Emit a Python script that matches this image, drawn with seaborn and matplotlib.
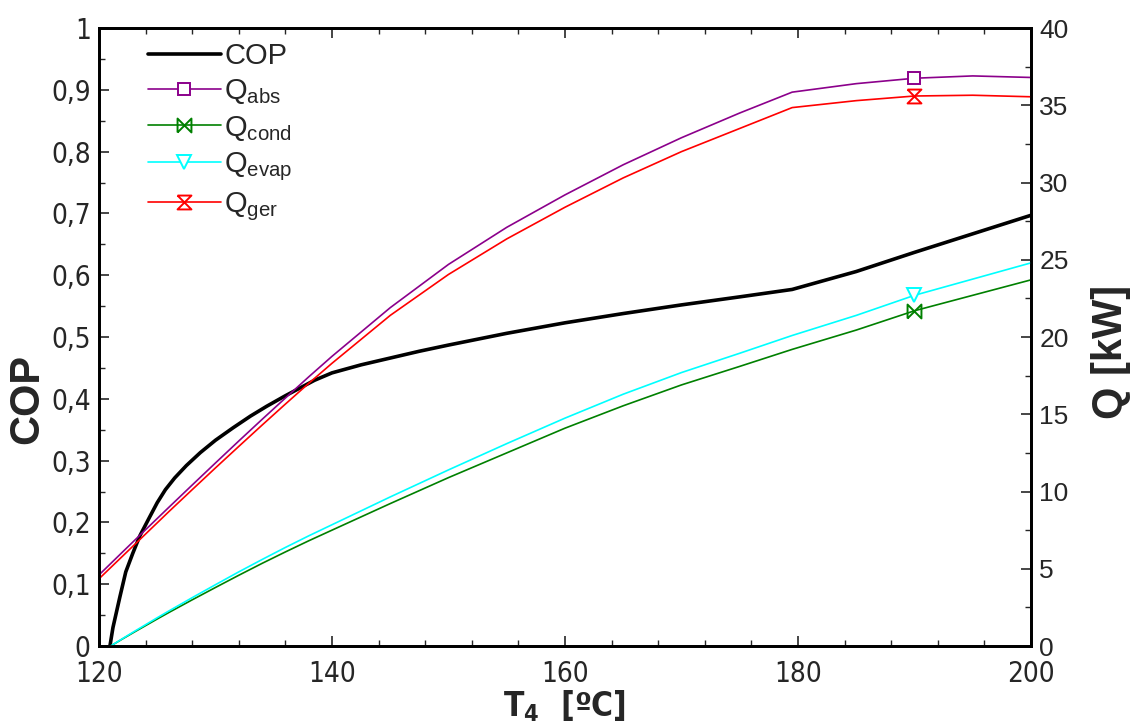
import matplotlib
matplotlib.use("Agg")
import matplotlib.pyplot as plt
import seaborn as sns
from matplotlib.ticker import MultipleLocator, FuncFormatter
from matplotlib import font_manager
from matplotlib.font_manager import FontProperties

# values
t_cop = [120.94, 121.2, 121.5, 121.8, 122.3, 122.9, 123.5, 124.3, 125.0, 125.7, 126.5,
         127.5, 128.7, 130.0, 131.5, 133.0, 134.4, 136.0, 137.3, 138.5, 140, 142.5, 145,
         147.5, 150, 155, 160, 165, 170, 175, 179.5, 185, 190, 195, 200]
cop = [0.0, 0.03, 0.055, 0.08, 0.12, 0.15, 0.178, 0.207, 0.232, 0.253, 0.272,
       0.292, 0.313, 0.333, 0.353, 0.372, 0.388, 0.405, 0.418, 0.43, 0.442, 0.455, 0.466,
       0.477, 0.487, 0.506, 0.523, 0.538, 0.552, 0.565, 0.577, 0.606, 0.637, 0.667, 0.697]

t_q = [120, 122, 124, 126, 128, 130, 132, 134, 136, 138, 140,
       145, 150, 155, 160, 165, 170, 175, 179.5, 185, 190, 195, 200]
q_abs = [4.6, 6.07, 7.53, 8.98, 10.42, 11.85, 13.27, 14.67, 16.05, 17.42, 18.75,
         21.9, 24.7, 27.1, 29.2, 31.15, 32.9, 34.5, 35.85, 36.4, 36.75, 36.9, 36.8]
q_ger = [4.35, 5.8, 7.25, 8.7, 10.12, 11.53, 12.92, 14.3, 15.66, 17.0, 18.3,
         21.4, 24.05, 26.35, 28.4, 30.3, 32.0, 33.5, 34.85, 35.3, 35.6, 35.65, 35.55]

t_low = [121, 122, 123, 124, 125, 126, 128, 130, 132, 134, 136, 138, 140,
         145, 150, 155, 160, 165, 170, 175, 179.5, 185, 190, 195, 200]
q_evap = [0.0, 0.47, 0.93, 1.38, 1.83, 2.27, 3.13, 3.97, 4.8, 5.6, 6.38, 7.13, 7.85,
          9.65, 11.4, 13.1, 14.75, 16.3, 17.7, 18.95, 20.1, 21.4, 22.7, 23.75, 24.8]
q_cond = [0.0, 0.45, 0.89, 1.32, 1.75, 2.17, 2.99, 3.79, 4.58, 5.35, 6.09, 6.81, 7.5,
          9.22, 10.9, 12.5, 14.1, 15.55, 16.9, 18.1, 19.2, 20.45, 21.7, 22.7, 23.7]

sns.set_style("ticks")
plt.rcParams['font.family'] = ['Liberation Sans', 'DejaVu Sans']


def find_font(keys):
    for k in keys:
        for f in font_manager.fontManager.ttflist:
            if f.fname.split('/')[-1] == k:
                return FontProperties(fname=f.fname)
    return None


narrow = find_font(['LiberationSansNarrow-Regular.ttf', 'DejaVuSansCondensed.ttf'])
narrow_b = find_font(['LiberationSansNarrow-Bold.ttf', 'DejaVuSansCondensed-Bold.ttf'])
if narrow is None:
    narrow = FontProperties(family='Liberation Sans')
if narrow_b is None:
    narrow_b = FontProperties(family='Liberation Sans', weight='bold')

fig = plt.figure(figsize=(11.43, 7.28), dpi=100)
ax = fig.add_axes([0.0866, 0.1126, 0.9020 - 0.0866, 0.9615 - 0.1126])
ax2 = ax.twinx()

# custom bow-tie markers
bowtie_h = [(-1, -1), (1, 1), (1, -1), (-1, 1), (-1, -1)]
bowtie_v = [(-1, 1), (1, 1), (-1, -1), (1, -1), (-1, 1)]

sns.lineplot(x=t_cop, y=cop, ax=ax, color='black', lw=2.6, label='COP', legend=False)
sns.lineplot(x=t_q, y=q_abs, ax=ax2, color='#8B008B', lw=1.2, marker='s', ms=9,
             mfc='white', mec='#8B008B', mew=1.4, markevery=[t_q.index(190)],
             label='Q$_\\mathregular{abs}$', legend=False)
sns.lineplot(x=t_low, y=q_cond, ax=ax2, color='#008000', lw=1.2, marker=bowtie_h, ms=10,
             mfc='none', mec='#008000', mew=1.4, markevery=[t_low.index(190)],
             label='Q$_\\mathregular{cond}$', legend=False)
sns.lineplot(x=t_low, y=q_evap, ax=ax2, color='#00FFFF', lw=1.2, marker='v', ms=10,
             mfc='white', mec='#00FFFF', mew=1.4, markevery=[t_low.index(190)],
             label='Q$_\\mathregular{evap}$', legend=False)
sns.lineplot(x=t_q, y=q_ger, ax=ax2, color='#FF0000', lw=1.2, marker=bowtie_v, ms=10,
             mfc='none', mec='#FF0000', mew=1.4, markevery=[t_q.index(190)],
             label='Q$_\\mathregular{ger}$', legend=False)

ax.set_xlim(120, 200)
ax.set_ylim(0, 1)
ax2.set_ylim(0, 40)

ax.xaxis.set_major_locator(MultipleLocator(20))
ax.xaxis.set_minor_locator(MultipleLocator(4))
ax.yaxis.set_major_locator(MultipleLocator(0.1))
ax.yaxis.set_minor_locator(MultipleLocator(0.05))
ax2.yaxis.set_major_locator(MultipleLocator(5))
ax2.yaxis.set_minor_locator(MultipleLocator(2.5))

ax.yaxis.set_major_formatter(FuncFormatter(
    lambda v, p: f"{v:.1f}".replace('.', ',') if round(v, 3) not in (0, 1) else f"{v:.0f}"))

ax.tick_params(axis='x', which='both', direction='in', top=True, bottom=True)
ax.tick_params(axis='y', which='both', direction='in', left=True, right=False)
ax.tick_params(axis='x', which='major', pad=10)
ax.tick_params(axis='y', which='major', pad=6)
ax.tick_params(which='major', length=7, width=1.2)
ax.tick_params(which='minor', length=4.5, width=1.0)
ax2.tick_params(axis='y', which='both', direction='in')
ax2.tick_params(which='major', length=7, width=1.2, labelsize=19, pad=6)
ax2.tick_params(which='minor', length=4.5, width=1.0)

for lab in ax.get_xticklabels() + ax.get_yticklabels():
    lab.set_fontproperties(narrow)
    lab.set_fontsize(20)

for a in (ax, ax2):
    for s in a.spines.values():
        s.set_linewidth(2.0)
        s.set_color('black')

ax.set_xlabel('T$_\\mathregular{4}$  [ºC]', fontproperties=narrow_b, fontsize=24)
ax.xaxis.set_label_coords(0.5, -0.069)
ax.set_ylabel('COP', fontsize=30, fontweight='bold')
ax.yaxis.set_label_coords(-0.055, 0.40)
ax2.set_ylabel('Q [kW]', fontsize=30, fontweight='bold')
ax2.yaxis.set_label_coords(1.064, 0.476)

h1, l1 = ax.get_legend_handles_labels()
h2, l2 = ax2.get_legend_handles_labels()
ax2.legend(h1 + h2, l1 + l2, loc='upper left', bbox_to_anchor=(0.024, 1.02), frameon=False,
           fontsize=21, handlelength=2.5, handletextpad=0.12, labelspacing=0.25, numpoints=1)

fig.savefig('out.png', dpi=100)
